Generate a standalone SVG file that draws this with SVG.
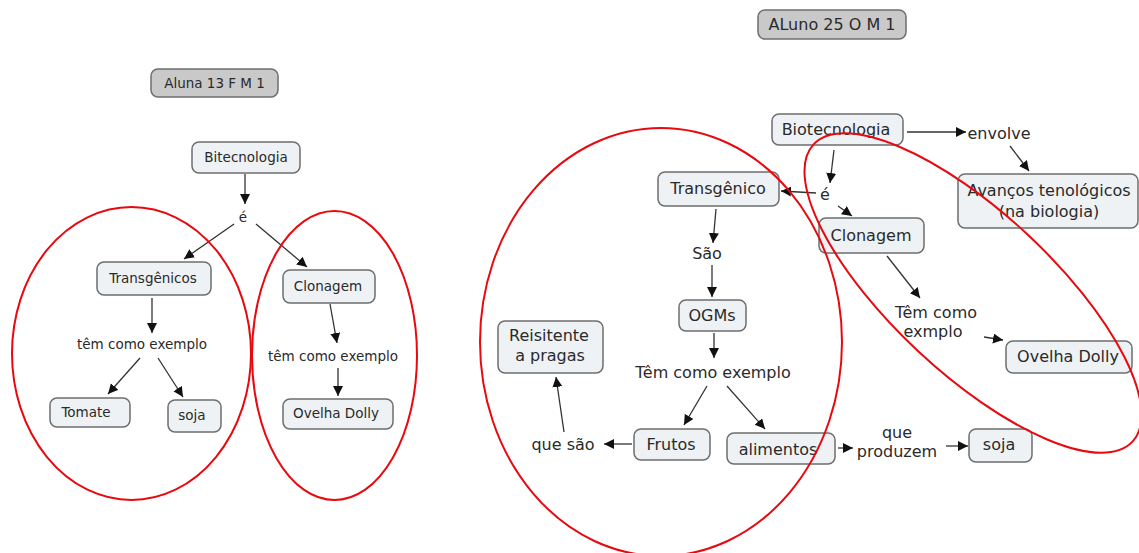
<svg xmlns="http://www.w3.org/2000/svg" width="1139" height="553" viewBox="0 0 1139 553">
<style>
.bg{fill:#ffffff}
.node rect{fill:#eef2f5;stroke:#6e6e6e;stroke-width:1.5}
.title rect{fill:#c9c9c9;stroke:#6e6e6e;stroke-width:1.5}
text{font-family:"DejaVu Sans","Verdana",sans-serif;fill:#2a2a2a;text-anchor:middle}
.s{font-size:13.5px}
.l{font-size:16px}
.conn line{stroke:#333;stroke-width:1.3;marker-end:url(#ah)}
.ring{fill:none;stroke:#e8090f;stroke-width:2}
</style>
<defs>
<marker id="ah" markerUnits="userSpaceOnUse" markerWidth="11" markerHeight="11" refX="10" refY="5" orient="auto">
<path d="M0,0 L10,5 L0,10 z" fill="#111"/>
</marker>
</defs>
<rect class="bg" width="1139" height="553"/>

<g id="connectors" class="conn">
<line x1="245" y1="174" x2="245" y2="204"/>
<line x1="234" y1="224" x2="184" y2="259"/>
<line x1="256" y1="224" x2="307" y2="267"/>
<line x1="152" y1="298" x2="152" y2="333"/>
<line x1="140" y1="358" x2="108" y2="394"/>
<line x1="158" y1="358" x2="183" y2="397"/>
<line x1="330" y1="304" x2="337" y2="343"/>
<line x1="338" y1="368" x2="338" y2="396"/>

<line x1="907" y1="132" x2="966" y2="132"/>
<line x1="1010" y1="146" x2="1029" y2="171"/>
<line x1="834" y1="150" x2="830" y2="183"/>
<line x1="816" y1="193" x2="781" y2="191"/>
<line x1="838" y1="206" x2="852" y2="216"/>
<line x1="887" y1="256" x2="920" y2="298"/>
<line x1="984" y1="337" x2="1003" y2="340"/>
<line x1="716" y1="209" x2="713" y2="243"/>
<line x1="712" y1="265" x2="712" y2="297"/>
<line x1="714" y1="333" x2="714" y2="358"/>
<line x1="707" y1="386" x2="684" y2="425"/>
<line x1="727" y1="386" x2="765" y2="429"/>
<line x1="632" y1="444" x2="604" y2="444"/>
<line x1="564" y1="432" x2="556" y2="377"/>
<line x1="838" y1="448" x2="853" y2="448"/>
<line x1="946" y1="446" x2="968" y2="446"/>
</g>

<g id="t-aluna" class="title"><rect x="151" y="69" width="127" height="28" rx="7"/><text class="s" x="214.5" y="88">Aluna 13 F M 1</text></g>
<g id="n-bitecnologia" class="node"><rect x="192" y="142" width="108" height="31" rx="7"/><text class="s" x="246" y="162">Bitecnologia</text></g>
<text id="l-e1" class="s" x="243" y="222">é</text>
<g id="n-transgenicos" class="node"><rect x="97" y="262" width="114" height="33" rx="7"/><text class="s" x="153" y="283">Transgênicos</text></g>
<g id="n-clonagem1" class="node"><rect x="283" y="270" width="92" height="33" rx="7"/><text class="s" x="328" y="291">Clonagem</text></g>
<text id="l-tce1" class="s" x="142" y="349">têm como exemplo</text>
<text id="l-tce2" class="s" x="333" y="361">têm como exemplo</text>
<g id="n-tomate" class="node"><rect x="50" y="398" width="80" height="29" rx="7"/><text class="s" x="86" y="417">Tomate</text></g>
<g id="n-soja1" class="node"><rect x="168" y="400" width="53" height="32" rx="7"/><text class="s" x="192" y="420">soja</text></g>
<g id="n-dolly1" class="node"><rect x="283" y="399" width="110" height="30" rx="7"/><text class="s" x="336" y="418">Ovelha Dolly</text></g>

<g id="t-aluno" class="title"><rect x="758" y="10" width="148" height="29" rx="7"/><text class="l" x="832" y="30">ALuno 25 O M 1</text></g>
<g id="n-biotecnologia" class="node"><rect x="772" y="114" width="131" height="31" rx="7"/><text class="l" x="836" y="135">Biotecnologia</text></g>
<text id="l-envolve" class="l" x="999" y="139">envolve</text>
<g id="n-avancos" class="node"><rect x="958" y="174" width="180" height="54" rx="7"/><text class="l" x="1049" y="196">Avanços tenológicos</text><text class="l" x="1049" y="217">(na biologia)</text></g>
<text id="l-e2" class="l" x="825" y="200">é</text>
<g id="n-transgenico" class="node"><rect x="658" y="172" width="121" height="34" rx="7"/><text class="l" x="718" y="194">Transgênico</text></g>
<g id="n-clonagem2" class="node"><rect x="819" y="218" width="105" height="35" rx="7"/><text class="l" x="871" y="241">Clonagem</text></g>
<text id="l-tce3" class="l" x="936" y="318">Têm como</text>
<text id="l-tce3b" class="l" x="933" y="337">exmplo</text>
<g id="n-dolly2" class="node"><rect x="1006" y="341" width="126" height="32" rx="7"/><text class="l" x="1068" y="362">Ovelha Dolly</text></g>
<text id="l-sao" class="l" x="707" y="259">São</text>
<g id="n-ogms" class="node"><rect x="679" y="300" width="67" height="31" rx="7"/><text class="l" x="712" y="321">OGMs</text></g>
<text id="l-tce4" class="l" x="713" y="378">Têm como exemplo</text>
<g id="n-reisitente" class="node"><rect x="498" y="321" width="105" height="52" rx="7"/><text class="l" x="549" y="341">Reisitente</text><text class="l" x="550" y="361">a pragas</text></g>
<text id="l-quesao" class="l" x="563" y="450">que são</text>
<g id="n-frutos" class="node"><rect x="634" y="429" width="76" height="31" rx="7"/><text class="l" x="671" y="450">Frutos</text></g>
<g id="n-alimentos" class="node"><rect x="727" y="433" width="108" height="31" rx="7"/><text class="l" x="778" y="455">alimentos</text></g>
<text id="l-que" class="l" x="897" y="438">que</text>
<text id="l-produzem" class="l" x="897" y="457">produzem</text>
<g id="n-soja2" class="node"><rect x="969" y="429" width="63" height="33" rx="7"/><text class="l" x="999" y="450">soja</text></g>

<g id="highlights">
<ellipse class="ring" cx="131.5" cy="353.5" rx="119.5" ry="146.5"/>
<ellipse class="ring" cx="334.5" cy="355.5" rx="82.5" ry="144.5"/>
<ellipse class="ring" cx="661" cy="342" rx="181" ry="214"/>
<ellipse class="ring" cx="0" cy="0" rx="218" ry="80" transform="translate(973,293) rotate(43)"/>
</g>
</svg>
